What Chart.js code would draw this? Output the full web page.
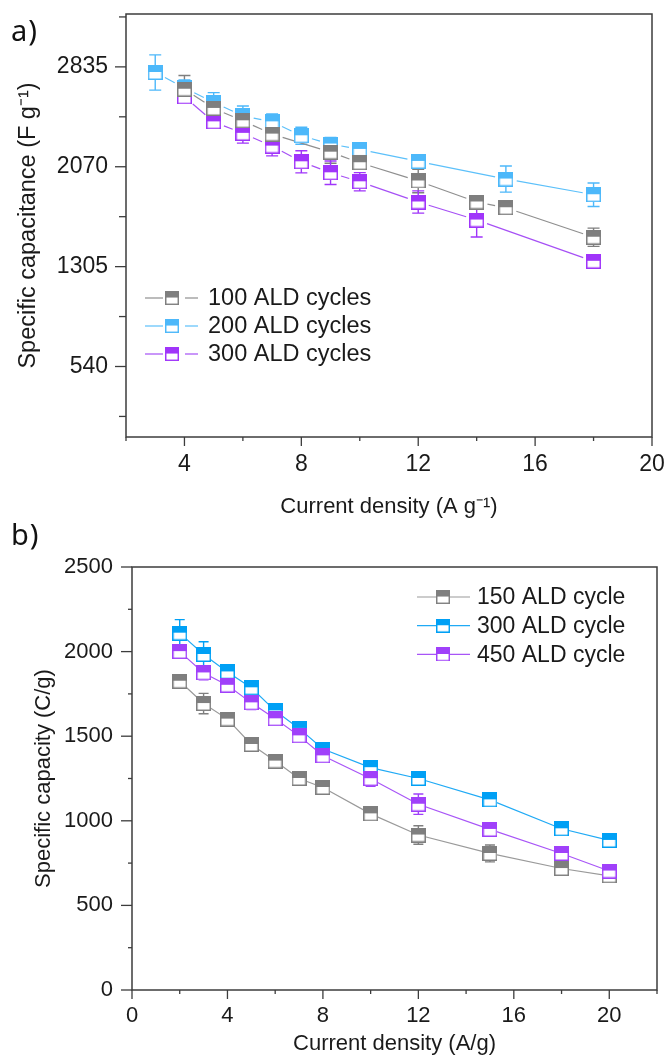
<!DOCTYPE html>
<html>
<head>
<meta charset="utf-8">
<script src="https://cdn.jsdelivr.net/npm/chart.js@4.4.1/dist/chart.umd.min.js"></script>
<style>
  body { margin: 0; background: #fff; width: 667px; height: 1057px; position: relative; overflow: hidden; }
  .panel { position: absolute; left: 0; }
  .tag { position: absolute; left: 11px; font-family: 'Noto Sans', sans-serif; font-size: 29px; letter-spacing: 1px; color: #111; line-height: 1; }
</style>
</head>
<body>
<div class="panel" style="top:0"><canvas id="chartA" width="667" height="520"></canvas></div>
<div class="panel" style="top:520px"><canvas id="chartB" width="667" height="537"></canvas></div>
<div class="tag" style="top:15px">a)</div>
<div class="tag" style="top:519px">b)</div>
<script>
// ---- panel a: specific capacitance ----
const aX100 = [4, 5, 6, 7, 9, 10, 12, 14, 15, 18];
const aY100 = [2664, 2517, 2422, 2320, 2182, 2101, 1961, 1800, 1756, 1530];
const aE100 = [105, 50, 60, 90, 85, 50, 90, 40, 40, 70];

const aX200 = [3, 4, 5, 6, 7, 8, 9, 10, 12, 15, 18];
const aY200 = [2792, 2675, 2563, 2460, 2414, 2307, 2244, 2203, 2111, 1976, 1856];
const aE200 = [135, 60, 75, 75, 60, 65, 50, 40, 40, 100, 90];

const aX300 = [4, 5, 6, 7, 8, 9, 10, 12, 14, 18];
const aY300 = [2605, 2414, 2326, 2228, 2108, 2024, 1955, 1800, 1662, 1346];
const aE300 = [40, 40, 75, 75, 85, 90, 70, 85, 130, 30];

const aYMajor = [540, 1305, 2070, 2835];
const aYMinor = [157.5, 922.5, 1687.5, 2452.5, 3217.5];
const aXMajor = [4, 8, 12, 16, 20];
const aXMinor = [2, 6, 10, 14, 18];

// ---- panel b: specific capacity ----
const bX = [2, 3, 4, 5, 6, 7, 8, 10, 12, 15, 18, 20];
const bY150 = [1825, 1693, 1601, 1451, 1353, 1250, 1197, 1041, 916, 807, 718, 675];
const bE150 = [30, 60, 25, 25, 25, 25, 25, 25, 55, 50, 20, 20];
const bY300 = [2109, 1983, 1880, 1786, 1650, 1546, 1424, 1314, 1250, 1124, 953, 884];
const bE300 = [80, 75, 25, 25, 30, 25, 20, 25, 30, 25, 20, 25];
const bY450 = [2000, 1874, 1801, 1697, 1603, 1502, 1384, 1249, 1098, 949, 807, 703];
const bE450 = [30, 40, 25, 40, 30, 25, 20, 45, 60, 30, 25, 20];

const bYMajor = [0, 500, 1000, 1500, 2000, 2500];
const bYMinor = [250, 750, 1250, 1750, 2250];
const bXMajor = [0, 4, 8, 12, 16, 20];
const bXMinor = [2, 6, 10, 14, 18, 22];

Chart.defaults.font.family = "'Liberation Sans', Arial, sans-serif";
Chart.defaults.color = '#1a1a1a';

// half filled square symbol, like the Origin markers
function boxMarker(color, size) {
    const c = document.createElement('canvas');
    c.width = size; c.height = size;
    const g = c.getContext('2d');
    g.fillStyle = '#fff';
    g.fillRect(0, 0, size, size);
    g.fillStyle = color;
    g.fillRect(0, 0, size, Math.floor(size / 2));
    g.strokeStyle = color;
    g.lineWidth = 1.5;
    g.strokeRect(0.75, 0.75, size - 1.5, size - 1.5);
    return c;
}

function pts(xs, ys) {
    return xs.map((x, i) => ({x: x, y: ys[i]}));
}

// error bars with caps, drawn under the markers
const errorBars = {
    id: 'errorBars',
    beforeDatasetsDraw(chart, args, o) {
        const ctx = chart.ctx;
        const ys = chart.scales.y;
        ctx.save();
        chart.data.datasets.forEach((ds, i) => {
            const meta = chart.getDatasetMeta(i);
            ctx.strokeStyle = ds.markerColor;
            ctx.lineWidth = 1.4;
            meta.data.forEach((p, k) => {
                const v = ds.data[k].y, e = ds.errors[k];
                const top = ys.getPixelForValue(v + e), bot = ys.getPixelForValue(v - e);
                ctx.beginPath();
                ctx.moveTo(p.x, top); ctx.lineTo(p.x, bot);
                ctx.moveTo(p.x - o.cap, top); ctx.lineTo(p.x + o.cap, top);
                ctx.moveTo(p.x - o.cap, bot); ctx.lineTo(p.x + o.cap, bot);
                ctx.stroke();
            });
        });
        ctx.restore();
    }
};

// connecting lines that stop short of each symbol (panel a)
const gapLines = {
    id: 'gapLines',
    beforeDatasetsDraw(chart, args, o) {
        if (!o.gap) return;
        const ctx = chart.ctx;
        ctx.save();
        chart.data.datasets.forEach((ds, i) => {
            const p = chart.getDatasetMeta(i).data;
            ctx.strokeStyle = ds.borderColor;
            ctx.lineWidth = 1.2;
            for (let k = 0; k < p.length - 1; k++) {
                const dx = p[k + 1].x - p[k].x, dy = p[k + 1].y - p[k].y;
                const len = Math.hypot(dx, dy);
                if (len <= 2 * o.gap) continue;
                const ux = dx / len, uy = dy / len;
                ctx.beginPath();
                ctx.moveTo(p[k].x + ux * o.gap, p[k].y + uy * o.gap);
                ctx.lineTo(p[k + 1].x - ux * o.gap, p[k + 1].y - uy * o.gap);
                ctx.stroke();
            }
        });
        ctx.restore();
    }
};

// box frame + outward major/minor ticks
const frameTicks = {
    id: 'frameTicks',
    afterDraw(chart, args, o) {
        const {ctx, chartArea: a} = chart;
        const xs = chart.scales.x, ys = chart.scales.y;
        ctx.save();
        ctx.strokeStyle = '#3c3c3c';
        ctx.lineWidth = 1.5;
        ctx.strokeRect(a.left, a.top, a.right - a.left, a.bottom - a.top);
        ctx.lineWidth = 1.3;
        xs.ticks.forEach(t => {
            const px = xs.getPixelForValue(t.value);
            const len = o.xMajor.includes(t.value) ? o.xLen[0] : o.xLen[1];
            ctx.beginPath(); ctx.moveTo(px, a.bottom); ctx.lineTo(px, a.bottom + len); ctx.stroke();
        });
        ys.ticks.forEach(t => {
            const py = ys.getPixelForValue(t.value);
            const len = o.yMajor.includes(t.value) ? o.yLen[0] : o.yLen[1];
            ctx.beginPath(); ctx.moveTo(a.left, py); ctx.lineTo(a.left - len, py); ctx.stroke();
        });
        ctx.restore();
    }
};

// legend drawn at fixed spot inside the plot
const boxLegend = {
    id: 'boxLegend',
    afterDraw(chart, args, o) {
        const ctx = chart.ctx;
        ctx.save();
        ctx.font = o.font;
        ctx.textBaseline = 'middle';
        ctx.fillStyle = '#1a1a1a';
        o.order.forEach((di, r) => {
            const ds = chart.data.datasets[di];
            const y = o.y + r * o.step;
            ctx.strokeStyle = ds.borderColor;
            ctx.lineWidth = 1.2;
            o.segs.forEach(s => {
                ctx.beginPath(); ctx.moveTo(s[0], y); ctx.lineTo(s[1], y); ctx.stroke();
            });
            ctx.drawImage(ds.pointStyle, o.mx - 7, y - 7, 14, 14);
            ctx.fillText(ds.label, o.tx, y + 1);
        });
        ctx.restore();
    }
};

function customTicks(major, minor) {
    return function (scale) {
        scale.ticks = major.concat(minor).sort((p, q) => p - q).map(v => ({value: v}));
    };
}

// fixed axis box sizes, no extra label padding so the plot area matches
function fixSize(w, h) {
    return function (s) {
        if (w) s.width = w;
        if (h) s.height = h;
        s.paddingTop = 0; s.paddingBottom = 0;
        s.paddingLeft = 0; s.paddingRight = 0;
    };
}

function series(label, xs, ys, es, marker, line, order, showLine) {
    return {
        label: label,
        data: pts(xs, ys),
        errors: es,
        markerColor: marker,
        borderColor: line,
        borderWidth: 1.2,
        showLine: showLine,
        pointStyle: boxMarker(marker, 15),
        pointRadius: 7.5,
        pointHoverRadius: 7.5,
        order: order
    };
}

const configA = {
    type: 'scatter',
    data: {
        datasets: [
            series('100 ALD cycles', aX100, aY100, aE100, '#7f7f7f', '#8f8f8f', 0, false),
            series('200 ALD cycles', aX200, aY200, aE200, '#4db8fa', '#5cc0fa', 2, false),
            series('300 ALD cycles', aX300, aY300, aE300, '#a035fa', '#a650f5', 1, false)
        ]
    },
    options: {
        responsive: false,
        animation: false,
        layout: {padding: {top: 14, right: 15, left: 0, bottom: 0}},
        plugins: {
            legend: {display: false},
            tooltip: {enabled: false},
            errorBars: {cap: 6},
            gapLines: {gap: 11},
            frameTicks: {xMajor: aXMajor, yMajor: aYMajor, xLen: [9, 4], yLen: [11, 7]},
            boxLegend: {font: "23.5px 'Liberation Sans', Arial, sans-serif", order: [0, 1, 2],
                        y: 298, step: 28, segs: [[145, 163], [185, 198]], mx: 172, tx: 208}
        },
        scales: {
            x: {
                type: 'linear', min: 2, max: 20,
                afterBuildTicks: customTicks(aXMajor, aXMinor),
                afterFit: fixSize(0, 83),
                grid: {display: false, drawTicks: false},
                border: {display: false},
                ticks: {font: {size: 23}, padding: 14, autoSkip: false, maxRotation: 0,
                        callback: v => aXMajor.includes(v) ? String(v) : ''},
                title: {display: true, text: 'Current density (A g⁻¹)', font: {size: 22}, padding: {top: 0, bottom: 0}}
            },
            y: {
                type: 'linear', min: 0, max: 3240,
                afterBuildTicks: customTicks(aYMajor, aYMinor),
                afterFit: fixSize(126, 0),
                grid: {display: false, drawTicks: false},
                border: {display: false},
                ticks: {font: {size: 23}, padding: 18, autoSkip: false,
                        callback: v => aYMajor.includes(v) ? String(v) : ''},
                title: {display: true, text: 'Specific capacitance (F g⁻¹)', font: {size: 23.5}, padding: {top: 14, bottom: 0}}
            }
        }
    },
    plugins: [errorBars, gapLines, frameTicks, boxLegend]
};

const configB = {
    type: 'scatter',
    data: {
        datasets: [
            series('150 ALD cycle', bX, bY150, bE150, '#7f7f7f', '#9a9a9a', 2, true),
            series('300 ALD cycle', bX, bY300, bE300, '#00a0f5', '#20aaf5', 1, true),
            series('450 ALD cycle', bX, bY450, bE450, '#a040fa', '#a855f7', 0, true)
        ]
    },
    options: {
        responsive: false,
        animation: false,
        layout: {padding: {top: 47, right: 10, left: 0, bottom: 0}},
        plugins: {
            legend: {display: false},
            tooltip: {enabled: false},
            errorBars: {cap: 5},
            gapLines: {gap: 0},
            frameTicks: {xMajor: bXMajor, yMajor: bYMajor, xLen: [9, 4], yLen: [11, 4]},
            boxLegend: {font: "23px 'Liberation Sans', Arial, sans-serif", order: [0, 1, 2],
                        y: 77, step: 28.7, segs: [[417, 470]], mx: 443, tx: 477}
        },
        scales: {
            x: {
                type: 'linear', min: 0, max: 22,
                afterBuildTicks: customTicks(bXMajor, bXMinor),
                afterFit: fixSize(0, 67),
                grid: {display: false, drawTicks: false},
                border: {display: false},
                ticks: {font: {size: 22}, padding: 13, autoSkip: false, maxRotation: 0,
                        callback: v => bXMajor.includes(v) ? String(v) : ''},
                title: {display: true, text: 'Current density (A/g)', font: {size: 22}, padding: {top: 0, bottom: 0}}
            },
            y: {
                type: 'linear', min: 0, max: 2500,
                afterBuildTicks: customTicks(bYMajor, bYMinor),
                afterFit: fixSize(132, 0),
                grid: {display: false, drawTicks: false},
                border: {display: false},
                ticks: {font: {size: 22}, padding: 19, autoSkip: false,
                        callback: v => bYMajor.includes(v) ? String(v) : ''},
                title: {display: true, text: 'Specific capacity (C/g)', font: {size: 22}, padding: {top: 31, bottom: 0}}
            }
        }
    },
    plugins: [errorBars, gapLines, frameTicks, boxLegend]
};

const chartA = new Chart(document.getElementById('chartA').getContext('2d'), configA);
const chartB = new Chart(document.getElementById('chartB').getContext('2d'), configB);
</script>
</body>
</html>
